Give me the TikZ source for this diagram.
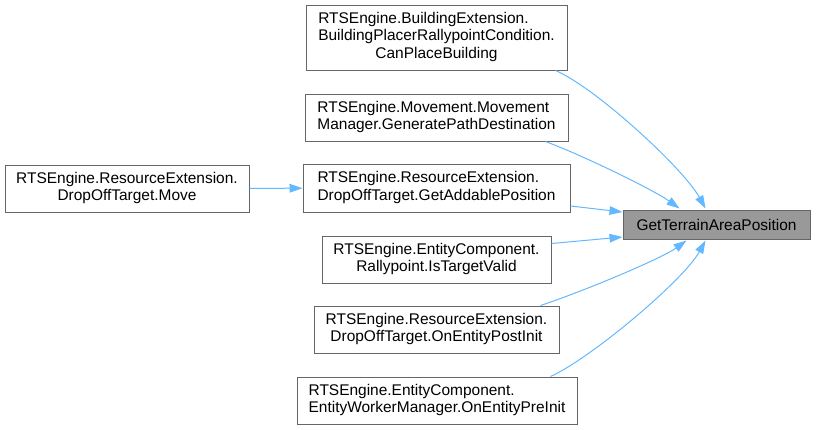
\documentclass[tikz,border=0pt]{standalone}
\usepackage{fontspec}
\setmainfont{Liberation Sans}
\usepackage{tikz}
\usetikzlibrary{calc,arrows.meta}
\definecolor{edgeblue}{HTML}{63B8FF}
\definecolor{boxgray}{HTML}{666666}
\definecolor{maingray}{HTML}{999999}
\newcommand{\calllines}[2]{\begin{tabular}{@{}l@{}}#1\\\multicolumn{1}{@{}c@{}}{#2}\end{tabular}}
\tikzset{
    caller/.style={rectangle, draw=boxgray, fill=white, line width=0.75pt, inner sep=0pt,
        minimum height=35.25pt, font=\fontsize{11.6}{13.1}\selectfont},
    target/.style={caller, fill=maingray, minimum height=21.75pt, minimum width=140.25pt},
    line/.style={-{Triangle[length=9.75pt,width=6.5pt]}, draw=edgeblue, line width=0.75pt},
}
\begin{document}
\begin{tikzpicture}
        [x=0.75pt, y=-0.75pt]

        \useasboundingbox (0,0) rectangle (816,429);

        \node[target] (terrain) at (716.5,224.5) {GetTerrainAreaPosition};

        \node[caller, minimum width=195.75pt, minimum height=48.75pt] (canplace) at (436.5,37.5)
            {\calllines{RTSEngine.BuildingExtension.\\BuildingPlacerRallypointCondition.}{CanPlaceBuilding}};
        \node[caller, minimum width=197.25pt] (genpath) at (436.5,117.5)
            {\calllines{RTSEngine.Movement.Movement}{Manager.GeneratePathDestination}};
        \node[caller, minimum width=200.25pt, minimum height=36pt] (addable) at (436.5,188)
            {\calllines{RTSEngine.ResourceExtension.}{DropOffTarget.GetAddablePosition}};
        \node[caller, minimum width=171.75pt] (valid) at (436.5,259.5)
            {\calllines{RTSEngine.EntityComponent.}{Rallypoint.IsTargetValid}};
        \node[caller, minimum width=183.75pt] (postinit) at (436.5,329.5)
            {\calllines{RTSEngine.ResourceExtension.}{DropOffTarget.OnEntityPostInit}};
        \node[caller, minimum width=210pt] (preinit) at (437,400.5)
            {\calllines{RTSEngine.EntityComponent.}{EntityWorkerManager.OnEntityPreInit}};
        \node[caller, minimum width=183pt] (move) at (127,188.5)
            {\calllines{RTSEngine.ResourceExtension.}{DropOffTarget.Move}};

        \draw[line] ($(canplace.south east)+(-12,0)$) .. controls +(40,17) and +(-22,-40) .. ($(terrain.north west)+(83,-1)$);
        \draw[line] ($(genpath.south east)+(-23,0)$) .. controls +(40,15) and +(-25,-18) .. ($(terrain.north west)+(57,-1)$);
        \draw[line] ($(addable.east)+(0,18)$) -- ($(terrain.west)+(0,-12.5)$);
        \draw[line] ($(valid.east)+(0,-16)$) -- ($(terrain.west)+(0,12.5)$);
        \draw[line] ($(postinit.north east)+(-19,0)$) .. controls +(45,-15) and +(-25,18) .. ($(terrain.south west)+(64,1)$);
        \draw[line] ($(preinit.north east)+(-27,0)$) .. controls +(40,-18) and +(-22,40) .. ($(terrain.south west)+(83,1)$);
        \draw[line] (move) -- (addable);

    \end{tikzpicture}
\end{document}
